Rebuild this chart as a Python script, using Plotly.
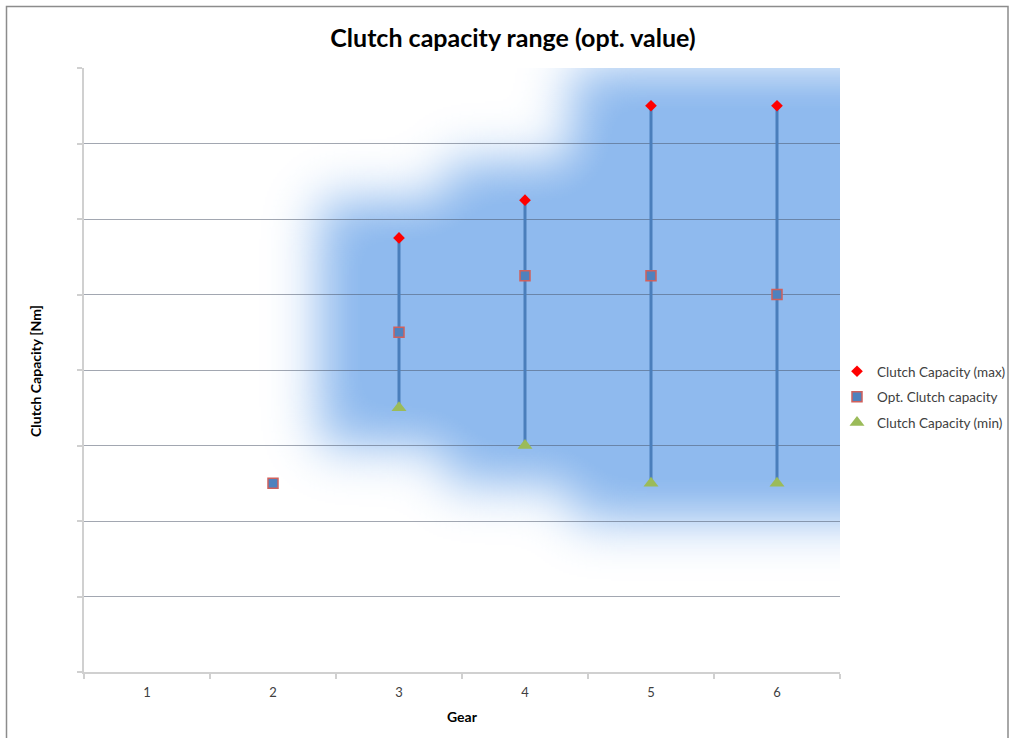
import base64
import struct
import zlib

import numpy as np
import plotly.graph_objects as go

# ---- data -------------------------------------------------------------
gears = [1, 2, 3, 4, 5, 6]
x_labels = ["1", "2", "3", "4", "5", "6"]
cap_max = [None, None, 5.75, 6.25, 7.5, 7.5]
cap_opt = [None, 2.5, 4.5, 5.25, 5.25, 5.0]
cap_min = [None, None, 3.5, 3.0, 2.5, 2.5]

Y_RANGE = (0, 8)
X_RANGE = (0.5, 6.5)

FONT = "Lato"
BLUE = "#4A7EBB"
GLOW_RGB = (143, 186, 238)


# ---- soft blue highlight behind the capacity ranges ------------------
def png_bytes(rgba):
    h, w, _ = rgba.shape
    raw = b"".join(b"\x00" + rgba[r].tobytes() for r in range(h))

    def chunk(tag, data):
        c = struct.pack(">I", len(data)) + tag + data
        return c + struct.pack(">I", zlib.crc32(tag + data) & 0xFFFFFFFF)

    ihdr = struct.pack(">IIBBBBB", w, h, 8, 6, 0, 0, 0)
    return (b"\x89PNG\r\n\x1a\n" + chunk(b"IHDR", ihdr)
            + chunk(b"IDAT", zlib.compress(raw, 9)) + chunk(b"IEND", b""))


def glow_image(w=378, h=302, sigma=12.5, pad=60, xpad=0.62, ypad=0.5):
    W, H = w + 2 * pad, h + 2 * pad
    mask = np.zeros((H, W), dtype=float)

    def to_col(x):
        return (x - X_RANGE[0]) / (X_RANGE[1] - X_RANGE[0]) * w + pad

    def to_row(y):
        return (Y_RANGE[1] - y) / (Y_RANGE[1] - Y_RANGE[0]) * h + pad

    ranged = [i for i, v in enumerate(cap_max) if v is not None]
    for k, i in enumerate(ranged):
        g = gears[i]
        left = g - xpad
        right = g + 0.5 if k < len(ranged) - 1 else X_RANGE[1] + 3
        c0, c1 = int(round(to_col(left))), int(round(to_col(right)))
        r0, r1 = int(round(to_row(cap_max[i] + ypad))), int(round(to_row(cap_min[i] - ypad)))
        mask[max(r0, 0):min(r1, H), max(c0, 0):min(c1, W)] = 1.0

    rad = int(3 * sigma)
    t = np.arange(-rad, rad + 1)
    kern = np.exp(-t ** 2 / (2 * sigma ** 2))
    kern /= kern.sum()
    blur = np.apply_along_axis(lambda r: np.convolve(r, kern, "same"), 1, mask)
    blur = np.apply_along_axis(lambda c: np.convolve(c, kern, "same"), 0, blur)
    blur = np.clip(blur[pad:pad + h, pad:pad + w] * 1.05, 0, 1)

    rgba = np.zeros((h, w, 4), dtype=np.uint8)
    rgba[..., 0], rgba[..., 1], rgba[..., 2] = GLOW_RGB
    rgba[..., 3] = (blur * 255).round().astype(np.uint8)
    return "data:image/png;base64," + base64.b64encode(png_bytes(rgba)).decode()


# ---- figure -----------------------------------------------------------
fig = go.Figure()

# high-low lines between min and max capacity
lx, ly = [], []
for g, lo, hi in zip(gears, cap_min, cap_max):
    if lo is not None and hi is not None:
        lx += [g, g, None]
        ly += [lo, hi, None]
fig.add_trace(go.Scatter(x=lx, y=ly, mode="lines", line=dict(color=BLUE, width=3),
                         showlegend=False, hoverinfo="skip"))

fig.add_trace(go.Scatter(
    x=gears, y=cap_max, mode="markers", name="Clutch Capacity (max)", legendgroup="a",
    marker=dict(symbol="diamond", size=9, color="#FF0000", line=dict(width=0))))
fig.add_trace(go.Scatter(
    x=gears, y=cap_opt, mode="markers", name="Opt. Clutch capacity", legendgroup="b",
    marker=dict(symbol="square", size=10, color="#4F81BD",
                line=dict(color="#D0605C", width=1.5))))
fig.add_trace(go.Scatter(
    x=gears, y=cap_min, mode="markers", name="Clutch Capacity (min)", legendgroup="c",
    marker=dict(symbol="triangle-up", size=13, color="#9BBB59", line=dict(width=0))))

fig.add_layout_image(dict(
    source=glow_image(), xref="x", yref="y", x=X_RANGE[0], y=Y_RANGE[1],
    sizex=X_RANGE[1] - X_RANGE[0], sizey=Y_RANGE[1] - Y_RANGE[0],
    xanchor="left", yanchor="top", sizing="stretch", layer="below", opacity=1))

fig.update_xaxes(
    range=list(X_RANGE), tickmode="array", tickvals=gears, ticktext=x_labels,
    ticks="", showgrid=False, zeroline=False, ticklabelstandoff=8,
    showline=True, linecolor="#D0D0D0", linewidth=1.5,
    tickfont=dict(family=FONT, size=13, color="#404040"),
    minor=dict(tick0=0.5, dtick=1, ticks="outside", ticklen=5,
               tickcolor="#D0D0D0", tickwidth=1.5, showgrid=False),
)
fig.update_yaxes(
    range=list(Y_RANGE), dtick=1, showticklabels=False, zeroline=False,
    showgrid=True, gridcolor="rgba(70,80,100,0.5)", gridwidth=1,
    ticks="outside", ticklen=5, tickcolor="#D0D0D0", tickwidth=1.5,
    showline=True, linecolor="#D0D0D0", linewidth=1.5,
)

fig.update_layout(
    width=1011, height=738,
    margin=dict(l=84, r=171, t=68, b=66, autoexpand=False),
    paper_bgcolor="white", plot_bgcolor="rgba(0,0,0,0)",
    font=dict(family=FONT, color="#404040"),
    title=dict(text="Clutch capacity range (opt. value)", xref="container",
               x=513 / 1011, xanchor="center", yref="container", y=1 - 38 / 738,
               yanchor="middle", font=dict(family=FONT, size=25, color="#000000", weight="bold")),
    legend=dict(xref="container", yref="container", x=837 / 1011, xanchor="left",
                y=1 - 397 / 738, yanchor="middle",
                font=dict(family=FONT, size=13.5, color="#404040"),
                tracegroupgap=5, bgcolor="rgba(0,0,0,0)", itemwidth=30),
    annotations=[
        dict(text="Gear", xref="paper", yref="paper", x=0.5, y=(672 - 716) / 604,
             showarrow=False, xanchor="center", yanchor="middle",
             font=dict(family=FONT, size=14, color="#000000", weight="bold")),
        dict(text="Clutch Capacity [Nm]", xref="paper", yref="paper",
             x=(35 - 84) / 756, y=(672 - 371) / 604, textangle=-90,
             showarrow=False, xanchor="center", yanchor="middle",
             font=dict(family=FONT, size=14, color="#000000", weight="bold")),
    ],
    shapes=[
        dict(type="rect", xref="paper", yref="paper",
             x0=(6.5 - 84) / 756, x1=(1008 - 84) / 756,
             y0=(672 - 760) / 604, y1=(672 - 6.5) / 604,
             line=dict(color="#8C8C8C", width=1.5), fillcolor="rgba(0,0,0,0)"),
    ],
    showlegend=True,
)

fig.write_html("out.html")
